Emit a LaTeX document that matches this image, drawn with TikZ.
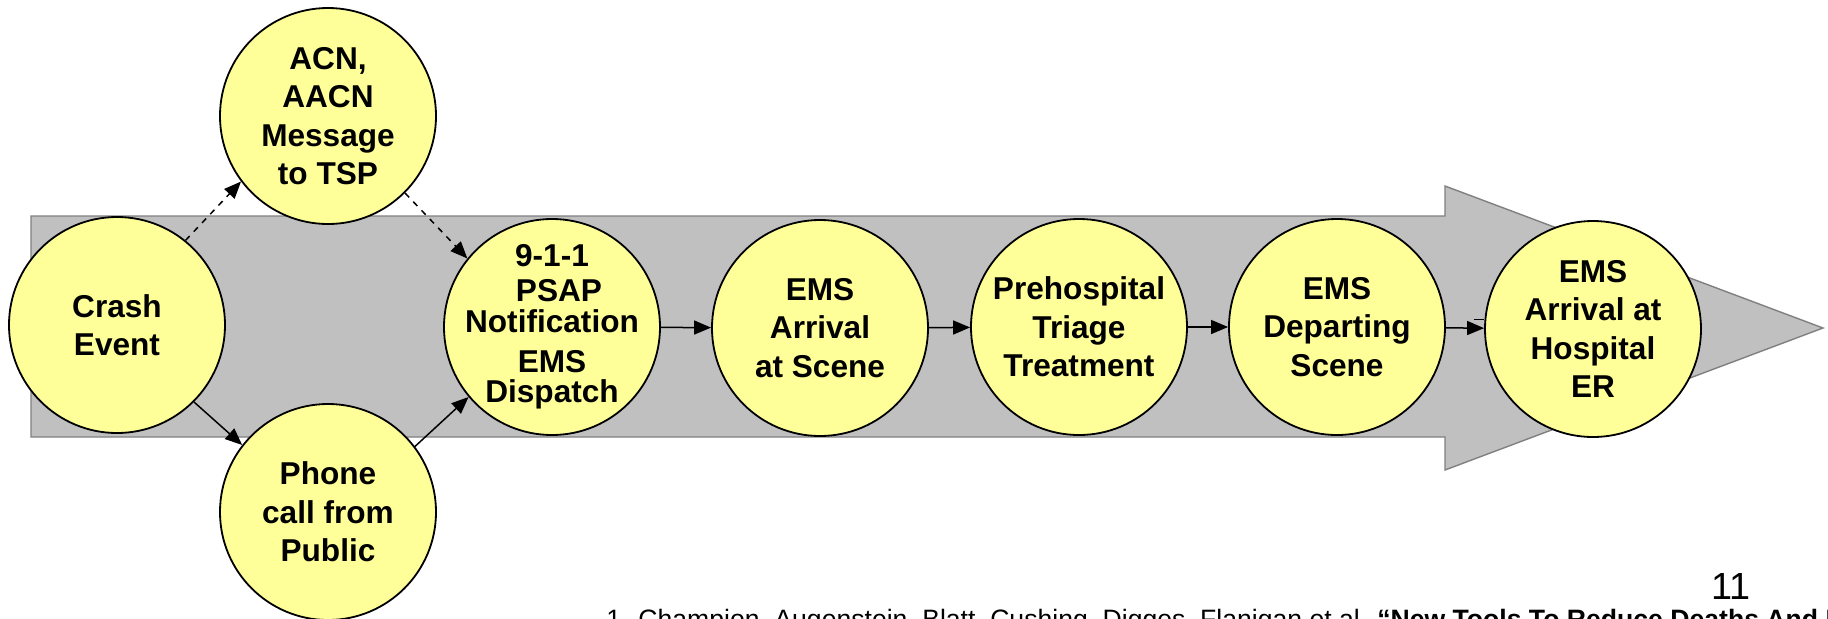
\documentclass[tikz,border=0pt]{standalone}
\usepackage{fontspec}
\setmainfont{Liberation Sans}
\usetikzlibrary{arrows.meta}
\definecolor{stageyellow}{HTML}{FFFF99}
\definecolor{flowgray}{HTML}{C0C0C0}
\definecolor{flowedge}{HTML}{808080}

\begin{document}
\begin{tikzpicture}[
  x=0.5pt, y=-0.5pt,
  every node/.style={font=\fontsize{15.8}{19.25}\selectfont\bfseries},
  stage/.style={circle, draw, line width=0.9pt, fill=stageyellow, minimum size=108pt, inner sep=-12pt, align=center},
  flow/.style={draw=flowedge, fill=flowgray, line width=0.7pt},
  arr/.style={-{Triangle[length=8.5pt, width=7pt]}, line width=0.75pt},
  darr/.style={arr, dash pattern=on 3pt off 3pt}
]
\useasboundingbox (0,0) rectangle (1828,618);
\clip (0,0) rectangle (1828,618);
\fill[white] (0,0) rectangle (1828,618);

% Big process arrow
\draw[flow] (31,216) -- (1445,216) -- (1445,186) -- (1823,328) -- (1445,470) -- (1445,437) -- (31,437) -- cycle;

% Notification stages
\node[stage] (crash) at (117, 325) {Crash\\Event};
\node[stage] (acn) at (328, 116) {ACN,\\AACN\\Message\\to TSP};
\node[stage] (phone) at (328, 512) {Phone\\call from\\Public};
\node[stage, font=\fontsize{15.8}{15}\selectfont\bfseries] (psap) at (552, 327) {9-1-1\\[2.5pt]\hspace*{7pt}PSAP\\[0.5pt]Notification\\[5pt]EMS\\Dispatch};

% EMS stages
\node[stage] (scene) at (820, 328) {EMS\\Arrival\\at Scene};
\node[stage] (triage) at (1079, 327) {Prehospital\\Triage\\Treatment};
\node[stage] (depart) at (1337, 327) {EMS\\Departing\\Scene};
\node[stage] (hosp) at (1593, 329) {EMS\\Arrival at\\Hospital\\ER};

% Arrows
\draw[darr] (crash.51) -- (acn.217);
\draw[darr] (acn.315) -- (psap.141);
\draw[arr] (crash.315) -- (phone.142);
\draw[arr] (phone.37) -- (psap.220);
\draw[arr] (psap) -- (scene);
\draw[arr] (scene) -- (triage);
\draw[arr] (triage) -- (depart);
\draw[arr] (depart) -- (hosp);
\draw[line width=0.5pt] ([xshift=-5pt, yshift=5pt]hosp.west) -- ([yshift=5pt]hosp.west);

% Page number and footnote
\node[font=\fontsize{18.9}{22}\selectfont] (pagenum) at (1731, 586) {11};
\node[font=\fontsize{13.3}{16}\selectfont, anchor=base west, inner sep=0pt] (footnote) at (606, 628) {1. Champion, Augenstein, Blatt, Cushing, Digges, Flanigan et al. \textbf{“New Tools To Reduce Deaths And I}};

\end{tikzpicture}
\end{document}
